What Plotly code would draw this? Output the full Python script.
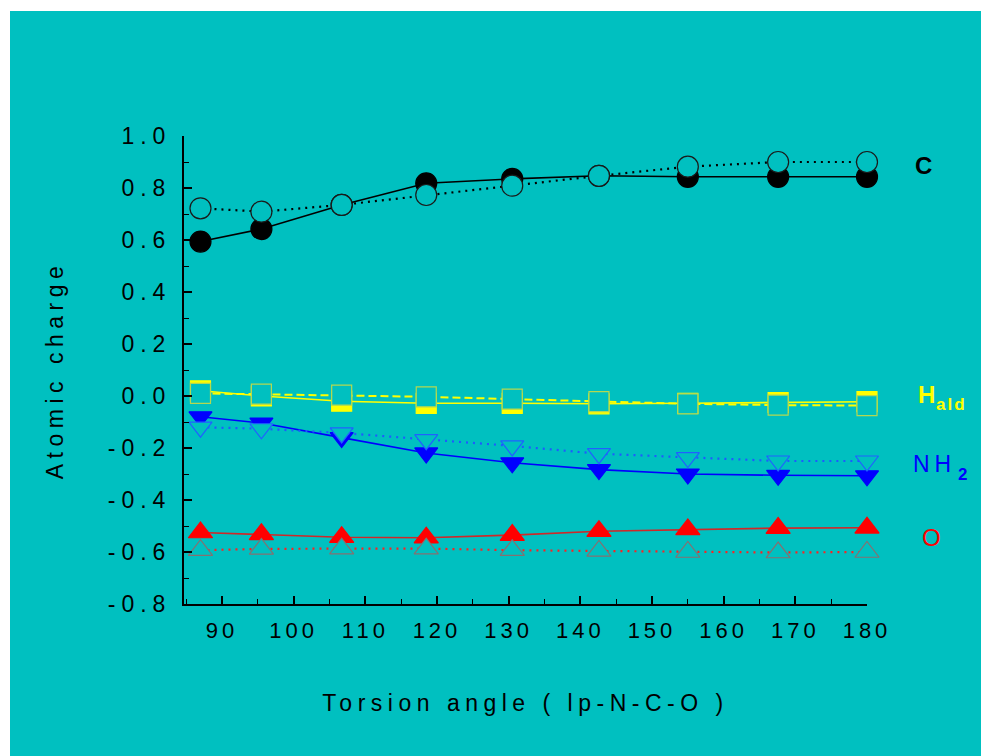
import plotly.graph_objects as go

# ---------------- data ----------------
torsion = [87, 95.5, 106.7, 118.5, 130.5, 142.6, 155, 167.6, 180]

c_filled = [0.594, 0.642, 0.735, 0.818, 0.835, 0.847, 0.843, 0.843, 0.843]
c_open = [0.722, 0.709, 0.735, 0.773, 0.809, 0.847, 0.882, 0.900, 0.900]

h_filled = [0.020, 0.000, -0.020, -0.028, -0.028, -0.030, -0.028, -0.025, -0.022]
h_open = [0.010, 0.007, 0.003, -0.003, -0.012, -0.022, -0.030, -0.035, -0.037]

nh2_filled = [-0.080, -0.104, -0.160, -0.219, -0.257, -0.283, -0.300, -0.305, -0.307]
nh2_open = [-0.120, -0.126, -0.142, -0.168, -0.192, -0.222, -0.237, -0.250, -0.250]

o_filled = [-0.525, -0.532, -0.543, -0.545, -0.535, -0.520, -0.513, -0.508, -0.507]
o_open = [-0.593, -0.588, -0.587, -0.587, -0.593, -0.596, -0.600, -0.602, -0.600]

x_ticks = [90, 100, 110, 120, 130, 140, 150, 160, 170, 180]
y_ticks = [-0.8, -0.6, -0.4, -0.2, 0.0, 0.2, 0.4, 0.6, 0.8, 1.0]
y_tick_labels = ["-0.8", "-0.6", "-0.4", "-0.2", "0.0", "0.2", "0.4", "0.6", "0.8", "1.0"]

x_title = "Torsion angle ( lp-N-C-O )"
y_title = "Atomic charge"

# series labels: (main text, subscript text, colour)
series_labels = [("C", "", "#000000"), ("H", "ald", "#FFFF00"),
                 ("NH", "2", "#0000FF"), ("O", "", "#FF0000")]

# ---------------- styling ----------------
BG = "#00C0C0"
FONT = "Liberation Sans, Arial, sans-serif"
W, H = 981, 756
L, R, T, B = 184, 114, 136, 152


def spaced(txt, px):
    return f'<span style="letter-spacing:{px}px">{txt}</span>'


def px_to_paper(px, py):
    return (px - L) / (W - L - R), (H - B - py) / (H - T - B)


fig = go.Figure()


def add(y, color, dash, lw, symbol, mcolor, mline, size):
    fig.add_trace(go.Scatter(
        x=torsion, y=y, mode="lines+markers", cliponaxis=False,
        line=dict(color=color, width=lw, dash=dash),
        marker=dict(symbol=symbol, size=size, color=mcolor,
                    line=dict(color=mline, width=1.2)),
        showlegend=False, hoverinfo="skip"))


# filled series first, open (background-filled) series drawn on top
add(c_filled, "#000000", "solid", 1.6, "circle", "#000000", "#000000", 21)
add(c_open, "#000000", "2px,5px", 2.2, "circle", BG, "#1a1a1a", 21)

add(h_filled, "#FFFF00", "solid", 1.6, "square", "#FFFF00", "#FFFF00", 20)
add(h_open, "#FFFF00", "8px,4px", 2.0, "square", BG, "#B4D850", 20)

add(nh2_filled, "#0000FF", "solid", 1.6, "triangle-down", "#0000FF", "#0000FF", 20)
add(nh2_open, "#1E5AFF", "2px,5px", 2.2, "triangle-down", BG, "#2060FF", 20)

add(o_filled, "#D02828", "solid", 1.6, "triangle-up", "#FF0000", "#FF0000", 21)
add(o_open, "#FF2020", "2px,5px", 2.2, "triangle-up", BG, "#857070", 21)

# label placement (pixels): main text left/centre-y, subscript left/centre-y
main_pos = [(913, 165), (916, 394), (911, 464), (920, 537)]
sub_pos = [None, (934, 404), (956, 474), None]
main_style = [(24, True, 0), (24, True, 0), (23, False, 5), (24, False, 0)]

anns = []
for (txt, sub, col), mp, sp, (fs, bold, ls) in zip(series_labels, main_pos, sub_pos, main_style):
    xp, yp = px_to_paper(*mp)
    t = f"<b>{txt}</b>" if bold else txt
    if ls:
        t = spaced(t, ls)
    anns.append(dict(text=t, x=xp, y=yp, xref="paper", yref="paper",
                     xanchor="left", yanchor="middle", showarrow=False,
                     font=dict(family=FONT, size=fs, color=col)))
    if sub:
        xs, ys = px_to_paper(*sp)
        anns.append(dict(text=spaced(f"<b>{sub}</b>", 2), x=xs, y=ys,
                         xref="paper", yref="paper",
                         xanchor="left", yanchor="middle", showarrow=False,
                         font=dict(family=FONT, size=17, color=col)))

# white border strips (top and left) of the original picture
x0, _ = px_to_paper(0, 0)
x1, _ = px_to_paper(10, 0)
_, y1 = px_to_paper(0, 0)
_, y0 = px_to_paper(0, 11)
shapes = [
    dict(type="rect", xref="paper", yref="paper", x0=x0, x1=x1, y0=-1, y1=y1,
         fillcolor="white", line=dict(width=0), layer="above"),
    dict(type="rect", xref="paper", yref="paper", x0=x0, x1=2, y0=y0, y1=y1,
         fillcolor="white", line=dict(width=0), layer="above"),
]

fig.update_layout(
    width=W, height=H,
    margin=dict(l=L, r=R, t=T, b=B, pad=0),
    paper_bgcolor=BG, plot_bgcolor=BG,
    font=dict(family=FONT, color="#000000"),
    annotations=anns, shapes=shapes,
    xaxis=dict(
        range=[84.7, 180], showgrid=False, zeroline=False,
        showline=True, linecolor="#000000", linewidth=2,
        ticks="inside", ticklen=8, tickwidth=1.5, tickcolor="#000000",
        tickvals=x_ticks, ticktext=[spaced(str(v), 4) for v in x_ticks],
        tickfont=dict(family=FONT, size=22, color="#000000"),
        ticklabelstandoff=6,
        minor=dict(dtick=5, tick0=85, ticks="inside", ticklen=5, tickwidth=1.2,
                   tickcolor="#000000", showgrid=False),
        title=dict(text=spaced(x_title, 5.5), standoff=52,
                   font=dict(family=FONT, size=23, color="#000000")),
    ),
    yaxis=dict(
        range=[-0.8, 1.0], showgrid=False, zeroline=False,
        showline=True, linecolor="#000000", linewidth=2,
        ticks="inside", ticklen=8, tickwidth=1.5, tickcolor="#000000",
        tickvals=y_ticks, ticktext=[spaced(t, 6) for t in y_tick_labels],
        tickfont=dict(family=FONT, size=23, color="#000000"),
        ticklabelstandoff=6,
        minor=dict(dtick=0.1, tick0=-0.8, ticks="inside", ticklen=5, tickwidth=1.2,
                   tickcolor="#000000", showgrid=False),
        title=dict(text=spaced(y_title, 5.5), standoff=38,
                   font=dict(family=FONT, size=23, color="#000000")),
    ),
)

fig.write_html("out.html", config={"displayModeBar": False},
               post_script="document.body.style.margin='0';document.body.style.overflow='hidden';")
